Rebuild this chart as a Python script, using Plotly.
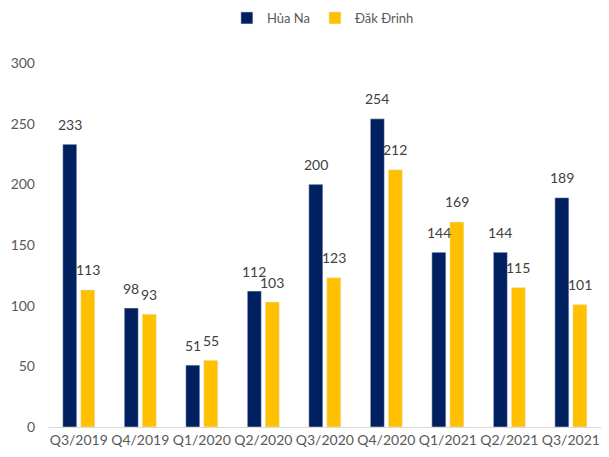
import plotly.graph_objects as go

categories = ["Q3/2019", "Q4/2019", "Q1/2020", "Q2/2020", "Q3/2020", "Q4/2020", "Q1/2021", "Q2/2021", "Q3/2021"]
hua_na = [233, 98, 51, 112, 200, 254, 144, 144, 189]
dak_drinh = [113, 93, 55, 103, 123, 212, 169, 115, 101]

NAVY = "#002060"
GOLD = "#FFC000"

fig = go.Figure()
fig.add_trace(go.Bar(x=categories, y=hua_na, name="Hủa Na", marker_color=NAVY))
fig.add_trace(go.Bar(x=categories, y=dak_drinh, name="Đăk Đrinh", marker_color=GOLD))

for cat, v in zip(categories, hua_na):
    fig.add_annotation(x=cat, y=v, text=str(v), showarrow=False, xshift=-9, yshift=20,
                       yanchor="middle", font=dict(size=14, color="#404040"))
for cat, v in zip(categories, dak_drinh):
    fig.add_annotation(x=cat, y=v, text=str(v), showarrow=False, xshift=9, yshift=20,
                       yanchor="middle", font=dict(size=14, color="#404040"))

fig.update_layout(
    width=601, height=441,
    margin=dict(l=40, r=0, t=55, b=22, autoexpand=False),
    paper_bgcolor="white", plot_bgcolor="white",
    font=dict(family="Lato", color="#595959", size=14),
    barmode="group", bargap=0.415, bargroupgap=0.22,
    legend=dict(orientation="h", x=0.49, xanchor="center", y=1.0 + 60 / 364, yanchor="top",
                font=dict(size=13), itemwidth=30),
    showlegend=True,
)
fig.update_yaxes(range=[0, 300], dtick=50, showgrid=False, zeroline=False, showline=False,
                 ticks="", tickfont=dict(size=14, color="#595959"), automargin=False,
                 ticklabelstandoff=12)
fig.update_xaxes(range=[-0.5, 8.62], showline=True, linecolor="#D9D9D9", linewidth=1, ticks="",
                 tickfont=dict(size=14, color="#595959"), automargin=False)

fig.write_html("out.html")
